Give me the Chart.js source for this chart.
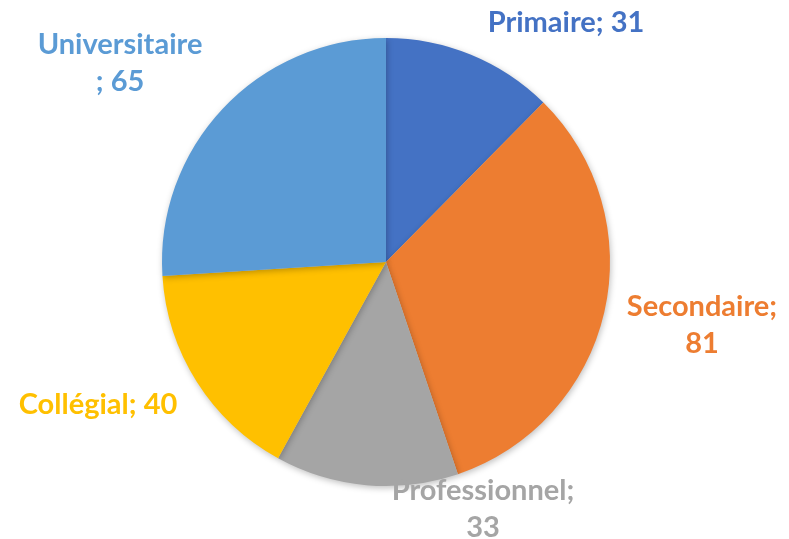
<!DOCTYPE html>
<html>
<head>
<meta charset="utf-8">
<script src="https://cdn.jsdelivr.net/npm/chart.js@4/dist/chart.umd.min.js"></script>
<style>
  html, body { margin: 0; padding: 0; background: #fff; }
  #wrap { width: 789px; height: 539px; }
</style>
</head>
<body>
<div id="wrap"><canvas id="pieChart" width="789" height="539"></canvas></div>
<script>
const categories = ['Primaire', 'Secondaire', 'Professionnel', 'Collégial', 'Universitaire'];
const values = [31, 81, 33, 40, 65];
const colors = ['#4472C4', '#ED7D31', '#A5A5A5', '#FFC000', '#5B9BD5'];

// label text lines and where to put them, relative to the pie centre
const labelLines = [
    ['Primaire; 31'],
    ['Secondaire;', '81'],
    ['Professionnel;', '33'],
    ['Collégial; 40'],
    ['Universitaire', '; 65']
];
const labelOffsets = [
    [180, -239],
    [316, 63],
    [97, 247],
    [-288, 143],
    [-266, -199]
];

const outsideLabels = {
    id: 'outsideLabels',
    afterDraw(chart) {
        const ctx = chart.ctx;
        const arc = chart.getDatasetMeta(0).data[0];
        const cx = arc.x, cy = arc.y;
        ctx.save();
        ctx.font = 'bold 29px Lato, "Open Sans", sans-serif';
        ctx.textAlign = 'center';
        ctx.textBaseline = 'middle';
        labelLines.forEach((lines, i) => {
            ctx.fillStyle = colors[i];
            const x = cx + labelOffsets[i][0];
            const y0 = cy + labelOffsets[i][1] - (lines.length - 1) * 18.5;
            lines.forEach((t, j) => ctx.fillText(t, x, y0 + j * 37));
        });
        ctx.restore();
    }
};

const shadow = {
    id: 'shadow',
    beforeDatasetsDraw(chart) {
        const ctx = chart.ctx;
        ctx.save();
        ctx.shadowColor = 'rgba(0,0,0,0.25)';
        ctx.shadowBlur = 6;
        ctx.shadowOffsetX = 1;
        ctx.shadowOffsetY = 2;
    },
    afterDatasetsDraw(chart) {
        chart.ctx.restore();
    }
};

const ctx = document.getElementById('pieChart').getContext('2d');
new Chart(ctx, {
    type: 'pie',
    data: {
        labels: categories,
        datasets: [{
            data: values,
            backgroundColor: colors,
            borderWidth: 0
        }]
    },
    options: {
        responsive: false,
        animation: false,
        layout: { padding: { left: 162, right: 179, top: 38, bottom: 53 } },
        plugins: {
            legend: { display: false },
            tooltip: { enabled: false }
        }
    },
    plugins: [shadow, outsideLabels]
});
</script>
</body>
</html>
